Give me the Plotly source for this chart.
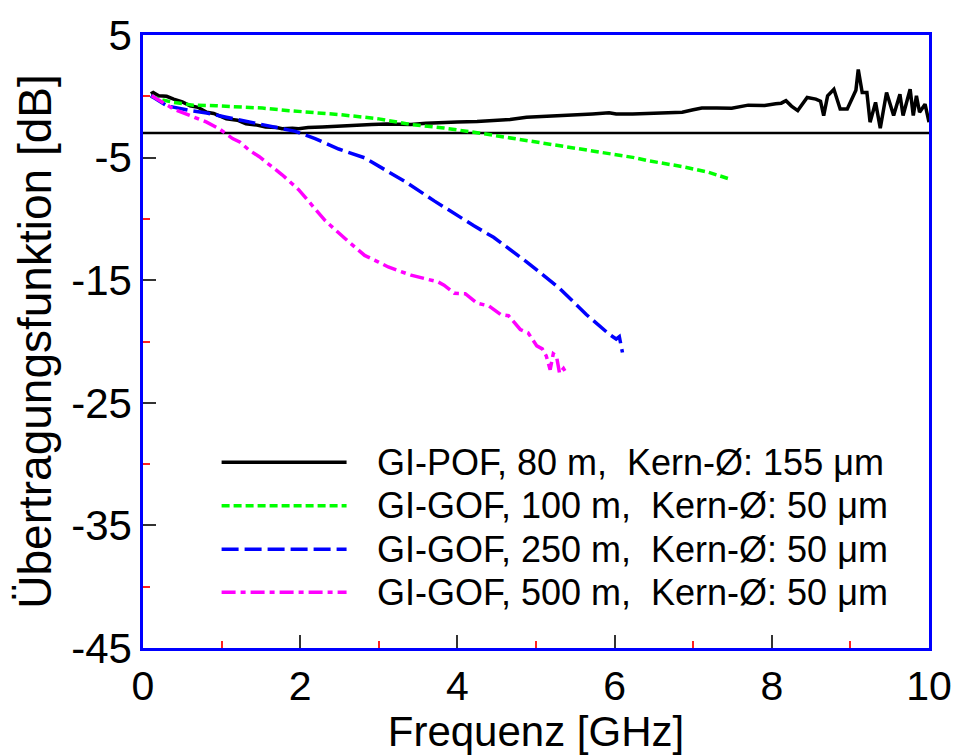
import plotly.graph_objects as go

# ---------------- data ----------------
pof80_f = [0.10, 0.13, 0.20, 0.30, 0.39, 0.50, 0.60, 0.70, 0.81, 0.90, 1.06, 1.20, 1.31, 1.45, 1.56,
           1.70, 1.77, 1.90, 1.98, 2.10, 2.28, 2.40, 2.57, 2.70, 2.91, 3.10, 3.25, 3.41, 3.60, 3.83,
           4.00, 4.25, 4.45, 4.67, 4.88, 5.10, 5.30, 5.50, 5.72, 5.93, 6.02, 6.23, 6.44, 6.65, 6.86,
           7.00, 7.11, 7.30, 7.49, 7.70, 7.91, 8.05, 8.12, 8.18, 8.25, 8.33, 8.40, 8.45, 8.56, 8.62,
           8.66, 8.71, 8.79, 8.87, 8.96, 9.02, 9.07, 9.10, 9.13, 9.15, 9.21, 9.25, 9.32, 9.38, 9.46,
           9.55, 9.63, 9.67, 9.76, 9.80, 9.84, 9.88, 9.95, 10.0]
pof80_db = [0.20, 0.31, 0.05, 0.00, -0.23, -0.45, -0.77, -0.90, -1.30, -1.40, -1.84, -1.95, -2.25, -2.35, -2.51,
            -2.55, -2.65, -2.60, -2.65, -2.55, -2.50, -2.45, -2.38, -2.35, -2.30, -2.25, -2.30, -2.30, -2.20, -2.11,
            -2.10, -2.06, -2.00, -1.90, -1.71, -1.65, -1.57, -1.50, -1.44, -1.35, -1.45, -1.45, -1.40, -1.35, -1.30,
            -1.10, -0.95, -0.95, -0.98, -0.72, -0.75, -0.60, -0.56, -0.36, -0.80, -1.17, -0.60, -0.10, -0.23, -0.40,
            -1.57, 0.04, 0.57, -1.04, -1.04, -0.10, 0.50, 2.18, 0.80, 0.31, 0.31, -2.11, -0.50, -2.60, 0.31,
            -1.57, 0.17, -1.57, 0.57, -1.57, 0.04, -1.30, -0.64, -2.11]

gof100_f = [0.10, 0.25, 0.39, 0.64, 0.93, 1.23, 1.52, 1.86, 2.15, 2.49, 2.82, 3.00, 3.41, 3.83, 4.25,
            4.67, 5.09, 5.51, 5.93, 6.25, 6.44, 6.86, 7.19, 7.36, 7.47]
gof100_db = [0.00, -0.30, -0.50, -0.72, -0.77, -0.85, -0.96, -1.17, -1.30, -1.49, -1.71, -1.84, -2.30, -2.59, -2.97,
             -3.40, -3.80, -4.26, -4.66, -5.00, -5.27, -5.73, -6.19, -6.54, -6.76]

gof250_f = [0.10, 0.30, 0.60, 0.81, 1.06, 1.35, 1.65, 1.94, 2.19, 2.40, 2.49, 2.82, 2.91, 3.10, 3.33,
            3.71, 4.04, 4.21, 4.46, 4.88, 5.30, 5.64, 5.93, 6.02, 6.06, 6.10]
gof250_db = [0.05, -0.77, -1.17, -1.36, -1.71, -2.11, -2.46, -2.86, -3.45, -4.05, -4.30, -5.02, -5.35, -6.08, -6.94,
             -8.55, -9.90, -10.56, -11.50, -13.50, -15.66, -17.80, -19.40, -19.80, -19.60, -20.90]

gof500_f = [0.11, 0.26, 0.39, 0.60, 0.81, 0.97, 1.14, 1.23, 1.35, 1.48, 1.56, 1.77, 1.98, 2.07, 2.15,
            2.32, 2.57, 2.82, 2.99, 3.12, 3.41, 3.75, 3.83, 3.96, 4.10, 4.25, 4.40, 4.55, 4.65, 4.80,
            4.90, 5.01, 5.08, 5.13, 5.18, 5.22, 5.26, 5.30, 5.35, 5.39]
gof500_db = [0.04, -0.50, -1.04, -1.57, -2.11, -2.65, -3.45, -3.72, -4.39, -4.93, -5.33, -6.40, -7.61, -8.29, -8.82,
             -10.16, -11.60, -12.98, -13.50, -13.92, -14.59, -15.13, -15.40, -16.06, -16.10, -16.87, -17.10, -17.80, -17.90, -19.02,
             -19.30, -20.36, -20.60, -21.17, -22.30, -21.00, -21.17, -22.60, -22.20, -22.64]

series_names = ["GI-POF, 80 m,\u00a0\u00a0Kern-Ø: 155 μm",
                "GI-GOF, 100 m,\u00a0\u00a0Kern-Ø: 50 μm",
                "GI-GOF, 250 m,\u00a0\u00a0Kern-Ø: 50 μm",
                "GI-GOF, 500 m,\u00a0\u00a0Kern-Ø: 50 μm"]
series_x = [pof80_f, gof100_f, gof250_f, gof500_f]
series_y = [pof80_db, gof100_db, gof250_db, gof500_db]

ref_level_db = -3
x_range = [0, 10]
y_range = [-45, 5]
x_tickvals = [0, 2, 4, 6, 8, 10]
x_ticktext = ["0", "2", "4", "6", "8", "10"]
y_tickvals = [5, -5, -15, -25, -35, -45]
y_ticktext = ["5", "-5", "-15", "-25", "-35", "-45"]
x_title = "Frequenz [GHz]"
y_title = "Übertragungsfunktion [dB]"

# ---------------- styles ----------------
colors = ["#000000", "#00FF00", "#0000FF", "#FF00FF"]
dashes = ["solid", "8px,4px", "17px,6px", "14px,5px,5px,5px"]
widths = [3.5, 3.5, 3.5, 3.5]
FONT = "Arial, 'Liberation Sans', sans-serif"

fig = go.Figure()

for xs, ys, name, c, d, w in zip(series_x, series_y, series_names, colors, dashes, widths):
    fig.add_trace(go.Scatter(x=xs, y=ys, mode="lines", name=name,
                             line=dict(color=c, dash=d, width=w), showlegend=False))

# -3 dB reference line
fig.add_shape(type="line", xref="x", yref="y", x0=x_range[0], x1=x_range[1],
              y0=ref_level_db, y1=ref_level_db, line=dict(color="#000000", width=2.5), layer="below")

# hand-drawn legend (long sample lines like the reference)
legend_rows_y = [0.303, 0.232, 0.161, 0.091]
for name, c, d, ly in zip(series_names, colors, dashes, legend_rows_y):
    fig.add_shape(type="line", xref="paper", yref="paper", x0=0.100, x1=0.259, y0=ly, y1=ly,
                  line=dict(color=c, dash=d, width=3.5))
    fig.add_annotation(xref="paper", yref="paper", x=0.295, y=ly, text=name, showarrow=False,
                       xanchor="left", yanchor="middle",
                       font=dict(family=FONT, size=36, color="#000000"))

fig.update_layout(
    width=964, height=755,
    margin=dict(l=143, r=28, t=32, b=102),
    paper_bgcolor="white", plot_bgcolor="white",
    font=dict(family=FONT, color="#000000"),
)

fig.update_xaxes(
    range=x_range, tickmode="array", tickvals=x_tickvals, ticktext=x_ticktext,
    showgrid=False, zeroline=False,
    showline=True, mirror=True, linecolor="#0000FF", linewidth=2.5,
    ticks="inside", ticklen=13, tickwidth=1.5, tickcolor="#333333",
    tickfont=dict(family=FONT, size=41, color="#000000"),
    minor=dict(tick0=1, dtick=2, ticks="inside", ticklen=7, tickwidth=2, tickcolor="#FF2020", showgrid=False),
    title=dict(text=x_title, font=dict(family=FONT, size=42, color="#000000"), standoff=5),
)
fig.update_yaxes(
    range=y_range, tickmode="array", tickvals=y_tickvals, ticktext=y_ticktext,
    showgrid=False, zeroline=False,
    showline=True, mirror=True, linecolor="#0000FF", linewidth=2.5,
    ticks="inside", ticklen=13, tickwidth=1.5, tickcolor="#333333",
    tickfont=dict(family=FONT, size=42, color="#000000"),
    minor=dict(tick0=0, dtick=10, ticks="inside", ticklen=7, tickwidth=2, tickcolor="#FF2020", showgrid=False),
    title=dict(text=y_title, font=dict(family=FONT, size=46, color="#000000"), standoff=6),
)

fig.write_html("out.html")
